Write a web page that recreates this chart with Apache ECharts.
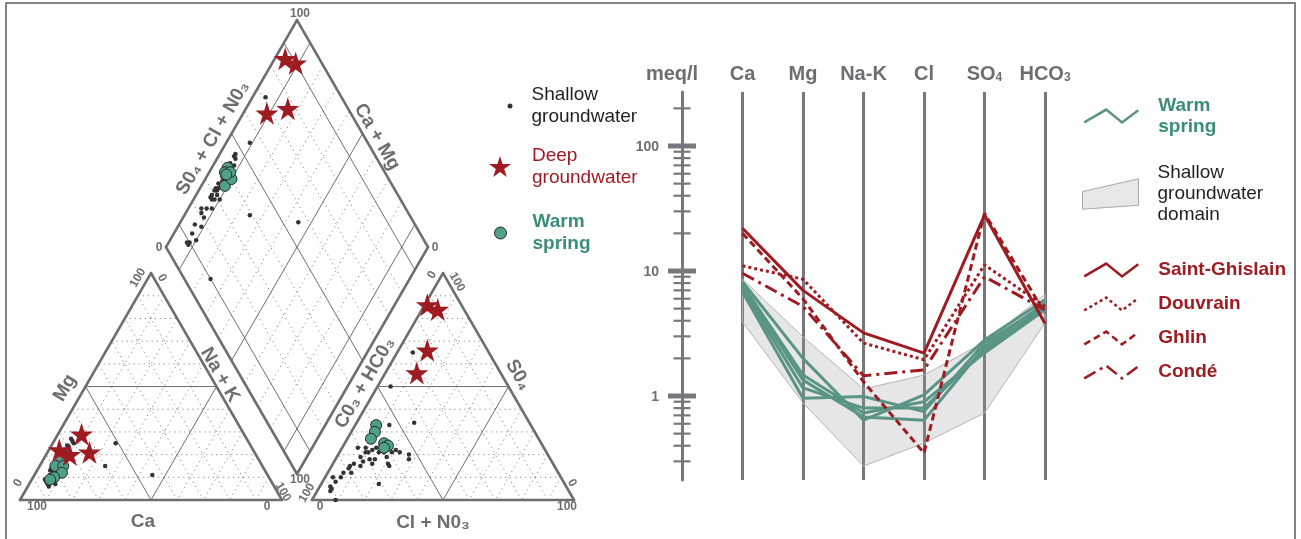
<!DOCTYPE html>
<html>
<head>
<meta charset="utf-8">
<title>Piper and Schoeller diagrams</title>
<script src="https://cdn.jsdelivr.net/npm/echarts@6/dist/echarts.min.js"></script>
<style>
  * { margin: 0; padding: 0; }
  html, body { background: #fff; }
  #main { width: 1301px; height: 539px; }
</style>
</head>
<body>
<div id="main"></div>
<script>
// ---- Piper data: cation [Mg %, Na+K %], anion [SO4 %, Cl+NO3 %], paired by sample
var shallowCation = [
  [6, 8], [7, 7], [7, 10], [8, 6], [8, 9], [9, 8], [9, 5], [10, 7], [10, 9], [11, 6],
  [11, 8], [12, 7], [12, 10], [13, 6], [13, 8], [14, 7], [14, 5], [15, 8], [15, 6], [16, 7],
  [16, 9], [17, 6], [17, 8], [18, 7], [19, 6], [19, 8], [20, 6], [21, 7], [22, 6], [23, 7],
  [24, 6], [25, 8], [26, 7], [27, 6], [25, 24], [15, 25], [11, 45], [13, 5], [18, 9], [9, 6]
];
var shallowAnion = [
  [0, 9], [4, 5], [10, 3], [10, 6], [12, 6], [14, 7], [15, 7], [16, 8], [15, 11], [19, 9],
  [21, 10], [21, 11], [18, 13], [22, 12], [23, 13], [21, 15], [21, 17], [19, 19], [16, 21], [15, 22],
  [21, 20], [22, 21], [21, 23], [18, 28], [20, 27], [7, 22], [23, 6], [17, 11], [16, 15], [18, 15],
  [23, 9], [6, 4], [8, 5], [12, 9], [5, 5], [22, 17], [34, 22], [65, 6], [50, 5], [33, 13]
];
var deepCation = [[22, 4], [29, 9], [21, 16], [20, 9]];
var deepAnion = [[86, 1], [84, 6], [66, 11], [56, 12]];
var warmCation = [[19, 6], [15, 6], [15, 9], [12, 10], [10, 8], [9, 7]];
var warmAnion = [[33, 8], [30, 9], [27, 9], [25, 15], [24, 17], [23, 16]];

// ---- Schoeller data (meq/l)
var ions = ['Ca', 'Mg', 'Na-K', 'Cl', 'SO4', 'HCO3'];
var warmSprings = [
  [8.2, 2.0, 0.64, 1.02, 2.8, 5.9],
  [7.8, 1.47, 0.73, 0.9, 2.21, 4.9],
  [7.5, 1.34, 0.68, 0.64, 2.47, 5.55],
  [7.1, 1.16, 0.8, 0.8, 2.33, 5.15],
  [6.8, 0.96, 0.99, 0.75, 2.65, 5.35]
];
var saintGhislain = [22, 7.0, 3.2, 2.2, 28, 3.8];
var douvrain = [11, 8.6, 2.65, 1.95, 11.2, 5.2];
var ghlin = [20, 6.0, 1.3, 0.35, 29, 4.6];
var conde = [9.6, 5.2, 1.45, 1.62, 9.0, 4.9];
var shallowUpper = [8.6, 2.97, 1.14, 1.47, 2.7, 6.5];
var shallowLower = [3.9, 0.88, 0.275, 0.42, 0.73, 3.84];
var meqTicks = [0.3, 0.4, 0.5, 0.6, 0.7, 0.8, 0.9, 1, 2, 3, 4, 5, 6, 7, 8, 9, 10,
  20, 30, 40, 50, 60, 70, 80, 90, 100, 200];
var meqMajor = [1, 10, 100];

// ---- styles
var FONT = '"Liberation Sans", Arial, Helvetica, sans-serif';
var GRAY = '#6d6e71', LINEGRAY = '#77787b', RED = '#9e1c21';
var TEAL_LINE = '#5a9486', TEAL_DOT = '#4ea08b', TEAL_TEXT = '#3b8c7a';
var STAR = 'path://M50,0L61.2,34.5L97.6,34.5L68.2,55.9L79.4,90.5L50,69.1L20.6,90.5L31.8,55.9L2.4,34.5L38.8,34.5Z';
var ZIGZAG = 'path://M0,38L65,0L112,38L160,2';
var QUAD = 'path://M0,13L57,0L57,27L0,31Z';

// ---- Piper geometry (side of triangle = 100 units)
var SQ = Math.sqrt(3) / 2;
var S = 100, G = 11.45, H = S * SQ, K = 2.62; // K = px per unit
var catV = [[0, 0], [S, 0], [S / 2, H]];
var aniV = [[S + G, 0], [2 * S + G, 0], [S + G + S / 2, H]];
var dB = [S + G / 2, G * SQ], dL = [-S / 2, H], dR = [S / 2, H];

function mix(a, b, f) { return [a[0] + (b[0] - a[0]) * f, a[1] + (b[1] - a[1]) * f]; }
function seg(list, p, q) { list.push([p[0], p[1], q[0], q[1]]); }

var edges = [], solid = [], dotted = [];
[catV, aniV].forEach(function (V) {
  for (var k = 0; k < 3; k++) {
    var j = (k + 1) % 3, l = (k + 2) % 3;
    seg(edges, V[k], V[j]);
    for (var i = 1; i < 10; i++) {
      seg(i === 5 ? solid : dotted, mix(V[j], V[k], i / 10), mix(V[l], V[k], i / 10));
    }
  }
});
var dLv = [dB[0] + dL[0], dB[1] + dL[1]], dRv = [dB[0] + dR[0], dB[1] + dR[1]];
var dT = [dB[0] + dL[0] + dR[0], dB[1] + dL[1] + dR[1]];
seg(edges, dB, dLv); seg(edges, dLv, dT); seg(edges, dT, dRv); seg(edges, dRv, dB);
for (var i = 1; i < 10; i++) {
  var f = i / 10;
  var list = (i === 1 || i === 5 || i === 9) ? solid : dotted;
  var a = [dB[0] + dL[0] * f, dB[1] + dL[1] * f];
  seg(list, a, [a[0] + dR[0], a[1] + dR[1]]);
  var b = [dB[0] + dR[0] * f, dB[1] + dR[1] * f];
  seg(list, b, [b[0] + dL[0], b[1] + dL[1]]);
}

function cationXY(p) { return [p[1] + p[0] / 2, p[0] * SQ]; }
function anionXY(p) { return [S + G + p[1] + p[0] / 2, p[0] * SQ]; }
function diamondXY(c, an) {
  var cm = 100 - c[1], sc = an[0] + an[1];
  return [dB[0] + (sc - cm) / 2, dB[1] + (cm + sc) * SQ];
}
function piperPoints(cat, an) {
  var out = [];
  cat.forEach(function (c) { out.push(cationXY(c)); });
  an.forEach(function (x) { out.push(anionXY(x)); });
  cat.forEach(function (c, i) { out.push(diamondXY(c, an[i])); });
  return out;
}

function segSeries(data, style, z) {
  return {
    type: 'custom', xAxisIndex: 0, yAxisIndex: 0, data: data, silent: true, z: z, clip: false,
    encode: { x: [0, 2], y: [1, 3] },
    renderItem: function (params, api) {
      var p = api.coord([api.value(0), api.value(1)]);
      var q = api.coord([api.value(2), api.value(3)]);
      return { type: 'line', shape: { x1: p[0], y1: p[1], x2: q[0], y2: q[1] }, style: Object.assign({}, style) };
    }
  };
}

function ionData(vals) { return vals.map(function (v, i) { return [i + 1, v]; }); }

var deepSites = [
  { name: 'Saint-Ghislain', values: saintGhislain, dash: 'solid' },
  { name: 'Douvrain', values: douvrain, dash: [3, 3] },
  { name: 'Ghlin', values: ghlin, dash: [7, 4] },
  { name: 'Condé', values: conde, dash: [13, 5, 3, 5] }
];

var series = [
  segSeries(dotted, { stroke: '#85878a', lineWidth: 1, lineDash: [1.2, 3.8] }, 1),
  segSeries(solid, { stroke: GRAY, lineWidth: 1 }, 1),
  segSeries(edges, { stroke: GRAY, lineWidth: 2.6, lineCap: 'round' }, 2),
  {
    name: 'Shallow groundwater', type: 'scatter', xAxisIndex: 0, yAxisIndex: 0,
    data: piperPoints(shallowCation, shallowAnion), symbol: 'circle', symbolSize: 4.5,
    itemStyle: { color: '#333333', opacity: 1 }, z: 5
  },
  {
    name: 'Warm spring', type: 'scatter', xAxisIndex: 0, yAxisIndex: 0,
    data: piperPoints(warmCation, warmAnion), symbol: 'circle', symbolSize: 11,
    itemStyle: { color: TEAL_DOT, borderColor: '#2a2a2a', borderWidth: 1, opacity: 1 }, z: 6
  },
  {
    name: 'Deep groundwater', type: 'scatter', xAxisIndex: 0, yAxisIndex: 0,
    data: piperPoints(deepCation, deepAnion), symbol: STAR, symbolSize: 23,
    itemStyle: { color: RED, opacity: 1 }, z: 7
  },
  {
    name: 'Shallow groundwater domain', type: 'custom', xAxisIndex: 1, yAxisIndex: 1,
    data: [[1, shallowUpper[0]]], encode: { x: 0, y: 1 }, clip: false, silent: true, z: 2,
    itemStyle: { color: '#e6e7e8' },
    renderItem: function (params, api) {
      var pts = [];
      shallowUpper.forEach(function (v, i) { pts.push(api.coord([i + 1, v])); });
      for (var i = shallowLower.length - 1; i >= 0; i--) pts.push(api.coord([i + 1, shallowLower[i]]));
      return { type: 'polygon', shape: { points: pts }, style: { fill: 'rgba(150,152,156,0.24)', stroke: '#b3b5b8', lineWidth: 1 } };
    }
  },
  {
    type: 'custom', xAxisIndex: 1, yAxisIndex: 1, silent: true, clip: false, z: 5,
    data: meqTicks.map(function (v) { return [0, v]; }), encode: { x: 0, y: 1 },
    renderItem: function (params, api) {
      var v = api.value(1), p = api.coord([0, v]);
      var major = meqMajor.indexOf(v) >= 0;
      var w = major ? 28 : 17, h = major ? 5 : 2.2;
      var children = [{ type: 'rect', shape: { x: p[0] - w / 2, y: p[1] - h / 2, width: w, height: h }, style: { fill: LINEGRAY } }];
      if (major) {
        children.push({ type: 'text', x: p[0] - 23, y: p[1] + 1,
          style: { text: String(v), align: 'right', verticalAlign: 'middle', fill: GRAY, font: 'bold 14px ' + FONT } });
      }
      return { type: 'group', children: children };
    }
  }
];
warmSprings.forEach(function (vals) {
  series.push({
    name: 'Warm spring', type: 'line', xAxisIndex: 1, yAxisIndex: 1, data: ionData(vals),
    symbol: 'none', lineStyle: { color: TEAL_LINE, width: 3 }, itemStyle: { color: TEAL_LINE }, z: 3
  });
});
deepSites.forEach(function (s) {
  series.push({
    name: s.name, type: 'line', xAxisIndex: 1, yAxisIndex: 1, data: ionData(s.values),
    symbol: 'none', lineStyle: { color: RED, width: 3, type: s.dash }, itemStyle: { color: RED }, z: 4
  });
});

function label(text, x, y, deg, size) {
  return {
    type: 'text', x: x, y: y, rotation: deg * Math.PI / 180, silent: true,
    style: { text: text, fill: GRAY, font: 'bold ' + size + 'px ' + FONT, align: 'center', verticalAlign: 'middle' }
  };
}

var graphics = [
  { type: 'rect', silent: true, shape: { x: 6, y: 3, width: 1289, height: 560 }, style: { fill: 'none', stroke: '#58595b', lineWidth: 1.5 } },
  // axis names
  label('Mg', 65, 388, 60, 19),
  label('Na + K', 220, 375, -60, 19),
  label('Ca', 143, 522, 0, 19),
  label('S0\u2084 + Cl + N0\u2083', 213, 138, 60, 19),
  label('Ca + Mg', 377, 137, -60, 19),
  label('C0\u2083 + HC0\u2083', 365, 383, 60, 19),
  label('S0\u2084', 518, 375, -60, 19),
  label('Cl + N0\u2083', 433, 523, 0, 19),
  // corner values
  label('100', 138, 278, 60, 12), label('0', 162, 278, -60, 12),
  label('0', 18, 483, 60, 12), label('100', 37, 507, 0, 12),
  label('0', 267, 507, 0, 12), label('100', 283, 492, -60, 12),
  label('0', 320, 507, 0, 12), label('100', 567, 507, 0, 12),
  label('100', 307, 493, 60, 12), label('0', 432, 275, 60, 12),
  label('100', 457, 282, -60, 12), label('0', 572, 483, -60, 12),
  label('100', 300, 14, 0, 12), label('0', 159, 248, 0, 12),
  label('0', 435, 248, 0, 12), label('100', 300, 480, 0, 12)
];

function simpleLegend(o) {
  return Object.assign({ orient: 'vertical', padding: 0, selectedMode: false }, o);
}

var option = {
  animation: false,
  backgroundColor: '#fff',
  textStyle: { fontFamily: FONT },
  grid: [
    { left: 20, top: 500 - 190 * K, width: (2 * S + G) * K, height: 190 * K },
    { left: 682, top: 92, width: 363, height: 388 }
  ],
  xAxis: [
    { type: 'value', gridIndex: 0, min: 0, max: 2 * S + G, show: false },
    {
      type: 'category', gridIndex: 1, data: [''].concat(ions), boundaryGap: false, position: 'top',
      axisLine: { show: false }, axisTick: { show: false },
      splitLine: { show: true, interval: 0, lineStyle: { color: LINEGRAY, width: 3 } },
      axisLabel: {
        interval: 0, margin: 8, color: GRAY, fontSize: 20, fontWeight: 'bold', fontFamily: FONT,
        formatter: function (v) { return v.replace(/(\d)/, '{sub|$1}'); },
        rich: { sub: { fontSize: 12, fontWeight: 'bold', color: GRAY, fontFamily: FONT, verticalAlign: 'bottom' } }
      }
    }
  ],
  yAxis: [
    { type: 'value', gridIndex: 0, min: 0, max: 190, show: false },
    {
      type: 'log', gridIndex: 1, logBase: 10, min: 0.2128, max: 270.4,
      axisLine: { show: true, lineStyle: { color: LINEGRAY, width: 3 } },
      axisTick: { show: false }, axisLabel: { show: false }, splitLine: { show: false },
      name: 'meq/l', nameLocation: 'end', nameGap: 8,
      nameTextStyle: { color: GRAY, fontSize: 20, fontWeight: 'bold', fontFamily: FONT, padding: [0, 20, 0, 0] }
    }
  ],
  legend: [
    simpleLegend({
      left: 507.5, top: 84, itemWidth: 5, itemHeight: 5,
      data: [{ name: 'Shallow groundwater', icon: 'circle', itemStyle: { color: '#333333', opacity: 1 } }],
      formatter: function () { return 'Shallow\ngroundwater'; },
      textStyle: { fontSize: 19, lineHeight: 22, color: '#231f20', fontFamily: FONT, padding: [0, 0, 0, 14] }
    }),
    simpleLegend({
      left: 489, top: 144.5, itemWidth: 22, itemHeight: 21,
      data: [{ name: 'Deep groundwater', icon: STAR, itemStyle: { color: RED, opacity: 1 } }],
      formatter: function () { return 'Deep\ngroundwater'; },
      textStyle: { fontSize: 19, lineHeight: 22, color: RED, fontFamily: FONT, padding: [0, 0, 0, 16] }
    }),
    simpleLegend({
      left: 494, top: 211, itemWidth: 12, itemHeight: 12,
      data: [{ name: 'Warm spring', icon: 'circle', itemStyle: { color: TEAL_DOT, borderColor: '#2a2a2a', borderWidth: 1, opacity: 1 } }],
      formatter: function () { return 'Warm\nspring'; },
      textStyle: { fontSize: 19, lineHeight: 22, fontWeight: 'bold', color: TEAL_TEXT, fontFamily: FONT, padding: [0, 0, 0, 21] }
    }),
    simpleLegend({
      left: 1083, top: 95, itemWidth: 54, itemHeight: 13,
      data: [{ name: 'Warm spring', icon: ZIGZAG, itemStyle: { color: 'transparent', borderColor: TEAL_LINE, borderWidth: 2.5, opacity: 1 } }],
      formatter: function () { return 'Warm\nspring'; },
      textStyle: { fontSize: 19, lineHeight: 21, fontWeight: 'bold', color: TEAL_TEXT, fontFamily: FONT, padding: [0, 0, 0, 15] }
    }),
    simpleLegend({
      left: 1082, top: 162.5, itemWidth: 56, itemHeight: 31,
      data: [{ name: 'Shallow groundwater domain', icon: QUAD, itemStyle: { color: '#e6e7e8', borderColor: '#a7a9ac', borderWidth: 1, opacity: 1 } }],
      formatter: function () { return 'Shallow\ngroundwater\ndomain'; },
      textStyle: { fontSize: 19, lineHeight: 21, color: '#231f20', fontFamily: FONT, padding: [0, 0, 0, 14] }
    }),
    simpleLegend({
      left: 1083, top: 259.5, itemWidth: 54, itemHeight: 13, itemGap: 13,
      data: deepSites.map(function (s) {
        return { name: s.name, icon: ZIGZAG, itemStyle: { color: 'transparent', borderColor: RED, borderWidth: 2.5, borderType: s.dash, opacity: 1 } };
      }),
      textStyle: { fontSize: 19, lineHeight: 21, fontWeight: 'bold', color: RED, fontFamily: FONT, padding: [0, 0, 0, 15] }
    })
  ],
  graphic: graphics,
  series: series
};

var chart = echarts.init(document.getElementById('main'), null, { renderer: 'canvas' });
chart.setOption(option);
</script>
</body>
</html>
